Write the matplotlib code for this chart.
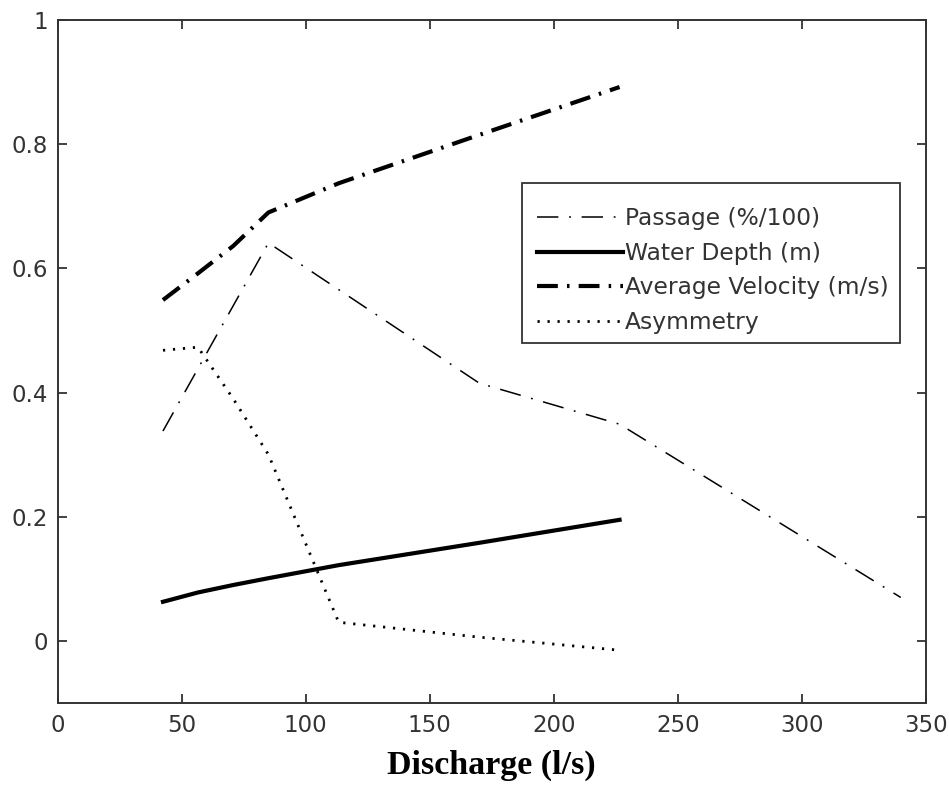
import matplotlib
matplotlib.use("Agg")
import matplotlib.pyplot as plt
from matplotlib.patches import Rectangle

# Discharge values (l/s)
discharge = [42.5, 56.6, 70.8, 85.0, 113.3, 170.0, 226.5]
discharge_passage = [42.5, 85.0, 170.0, 226.5, 339.8]

passage = [0.338, 0.641, 0.415, 0.349, 0.070]
water_depth = [0.063, 0.078, 0.090, 0.101, 0.122, 0.158, 0.195]
avg_velocity = [0.549, 0.592, 0.636, 0.690, 0.737, 0.815, 0.892]
asymmetry = [0.468, 0.473, 0.390, 0.300, 0.030, 0.006, -0.015]

x_ticks = [0, 50, 100, 150, 200, 250, 300, 350]
y_ticks = [0, 0.2, 0.4, 0.6, 0.8, 1.0]
y_tick_labels = ["0", "0.2", "0.4", "0.6", "0.8", "1"]

plt.rcParams["font.family"] = ["DejaVu Sans"]

fig = plt.figure(figsize=(9.49, 7.86), dpi=100)
ax = fig.add_axes([0.0606, 0.1056, 0.9152, 0.869])

ax.plot(discharge_passage, passage, color="black", lw=1.1,
        linestyle=(0, (14, 7, 1.2, 7)), label="Passage (%/100)")
ax.plot(discharge, water_depth, color="black", lw=3.0,
        linestyle="-", label="Water Depth (m)")
ax.plot(discharge, avg_velocity, color="black", lw=3.0,
        linestyle=(0, (5.0, 2.2, 0.6, 2.2)), label="Average Velocity (m/s)")
ax.plot(discharge, asymmetry, color="black", lw=2.0,
        linestyle=(0, (0.8, 2.8)), label="Asymmetry")

ax.set_xlim(0, 350)
ax.set_ylim(-0.1, 1.0)
ax.set_xticks(x_ticks)
ax.set_yticks(y_ticks)
ax.set_yticklabels(y_tick_labels)

for side in ["left", "right", "top", "bottom"]:
    ax.spines[side].set_linewidth(1.4)
    ax.spines[side].set_color("#333333")

ax.tick_params(direction="in", length=6.5, width=1.3, color="#333333",
               top=True, right=True, labelsize=16.5, labelcolor="#333333")
ax.tick_params(axis="x", pad=8)
ax.tick_params(axis="y", pad=7)

ax.set_xlabel("Discharge (l/s)", family="Liberation Serif", fontweight="bold",
              fontsize=24.5, labelpad=9)

# Legend box drawn as its own patch, entries placed inside it
legend_box = Rectangle((0.5348, 0.5271), 0.4353, 0.2342, transform=ax.transAxes,
                       facecolor="white", edgecolor="#333333", linewidth=1.3,
                       zorder=4.5)
ax.add_patch(legend_box)

leg = ax.legend(loc="upper left", bbox_to_anchor=(0.5383, 0.7426), fontsize=16.8,
                frameon=False, handlelength=3.7, handletextpad=0.08,
                borderpad=0.5, labelspacing=0.49, borderaxespad=0.0)
leg.set_zorder(5)
for t in leg.get_texts():
    t.set_color("#333333")

fig.savefig("out.png", dpi=100, facecolor="white")
